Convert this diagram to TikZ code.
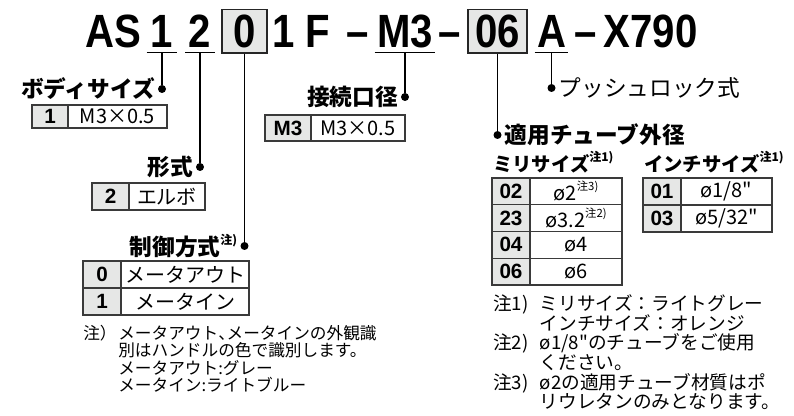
\documentclass[tikz,border=0pt]{standalone}
\usepackage{fontspec}
\setmainfont{Liberation Sans}
\newfontfamily\jpfont{Noto Sans CJK JP}
\newfontfamily\ttlfont[FakeStretch=0.86]{Liberation Sans}
\usetikzlibrary{positioning}
\definecolor{cellgray}{HTML}{E6E7E6}
\definecolor{rulegray}{HTML}{3A3A3A}
\newcommand{\chu}[2][9]{\raisebox{0.5em}{\fontsize{#1}{#1}\selectfont 注#2}}
\newcommand{\hcomma}{\makebox[0.5em][l]{、}}

\tikzset{
  ttl/.style={font={\ttlfont\bfseries\fontsize{35}{35}\selectfont}, inner sep=0pt, anchor=base},
  ulined/.style={text depth=3pt},
  tbox/.style={draw=black!85, fill=cellgray, line width=1.1pt, text height=29pt, text depth=3.75pt},
  uline/.style={line width=1.1pt},
  lead/.style={line width=1.1pt},
  dot/.style={circle, fill, inner sep=0pt, minimum size=6pt},
  lbl/.style={font={\jpfont\bfseries\fontsize{17}{17}\selectfont}, inner sep=0pt},
  lblthin/.style={font={\jpfont\fontsize{17}{17}\selectfont}, inner sep=0pt},
  subhd/.style={font={\jpfont\bfseries\fontsize{14.5}{14.5}\selectfont}, inner sep=0pt},
  cell/.style={draw=rulegray, line width=0.9pt, inner sep=0pt, outer sep=0pt},
  codecell/.style={cell, fill=cellgray, font={\bfseries\fontsize{15.5}{15.5}\selectfont}},
  valcell/.style={cell, fill=white, font={\jpfont\fontsize{15}{15}\selectfont}},
  note/.style={inner sep=0pt, align=left}
}

\begin{document}
\begin{tikzpicture}[x=0.75pt, y=-0.75pt]
	\useasboundingbox (0,0) rectangle (794,416);
	% model code
	\node[ttl] (tAS) at (113,48) {AS};
	\node[ttl, ulined, minimum width=22.5pt] (t1) at (162,48) {1};
	\node[ttl, ulined, minimum width=21.75pt] (t2) at (200,48) {2};
	\node[ttl, tbox, minimum width=33.75pt] (t0) at (244.5,48) {0};
	\node[ttl] (t1b) at (284,48) {1};
	\node[ttl] (tF) at (318,48) {F};
	\node[ttl] (tda) at (358,48) {–};
	\node[ttl, ulined, minimum width=45pt] (tM3) at (405,48) {M3};
	\node[ttl] (tdb) at (450,48) {–};
	\node[ttl, tbox, minimum width=44.25pt] (t06) at (497.5,48) {06};
	\node[ttl, ulined, minimum width=24.75pt] (tA) at (551.5,48) {A};
	\node[ttl] (tdc) at (586,48) {–};
	\node[ttl] (tX) at (650.5,48) {X790};
	\foreach \n in {t1,t2,tM3,tA}
		\draw[uline] (\n.south west) -- (\n.south east);

	% leader dots
	\node[dot] (d1) at (162,89) {};
	\node[dot] (d2) at (200,167) {};
	\node[dot] (d3) at (244.5,246) {};
	\node[dot] (d4) at (405,97) {};
	\node[dot] (d5) at (497.5,135) {};
	\node[dot] (d6) at (551.5,88) {};
	\draw[lead] (t1.south) -- (d1);
	\draw[lead] (t2.south) -- (d2);
	\draw[lead] (t0.south) -- (d3);
	\draw[lead] (tM3.south) -- (d4);
	\draw[lead] (t06.south) -- (d5);
	\draw[lead] (tA.south) -- (d6);

	\node[lbl, left=2pt of d1] (lBody) {ボディサイズ};
	\node[lbl, left=2pt of d2] (lType) {形式};
	\node[lbl, left=2pt of d3] (lCtrl) {制御方式\chu{)}};
	\node[lbl, left=2pt of d4] (lPort) {接続口径};
	\node[lbl, right=2pt of d5] (lTube) {適用チューブ外径};
	\node[lblthin, right=2pt of d6] (lLock) {プッシュロック式};

	% body size
	\node[codecell, minimum width=27pt, minimum height=17.25pt, anchor=north west] (b1k) at (32,105) {1};
	\node[valcell, minimum width=74.25pt, minimum height=17.25pt, right=0pt of b1k] (b1v) {M3×0.5};
	% type
	\node[codecell, minimum width=27.75pt, minimum height=20.25pt, anchor=north west] (s2k) at (92,183) {2};
	\node[valcell, minimum width=57pt, minimum height=20.25pt, right=0pt of s2k] (s2v) {エルボ};
	% control
	\node[codecell, minimum width=28.5pt, minimum height=20.25pt, anchor=north west] (c0k) at (83,261) {0};
	\node[valcell, minimum width=96pt, minimum height=20.25pt, right=0pt of c0k] (c0v) {メータアウト};
	\node[codecell, minimum width=28.5pt, minimum height=20.25pt, below=0pt of c0k] (c1k) {1};
	\node[valcell, minimum width=96pt, minimum height=20.25pt, right=0pt of c1k] (c1v) {メータイン};
	% port
	\node[codecell, minimum width=34.5pt, minimum height=19.5pt, anchor=north west] (p3k) at (265,115) {M3};
	\node[valcell, minimum width=70.5pt, minimum height=19.5pt, right=0pt of p3k] (p3v) {M3×0.5};

	% tube sizes
	\node[subhd, anchor=west] (hMm) at (493,162) {ミリサイズ\chu{1)}};
	\node[subhd, anchor=west] (hIn) at (644,162) {インチサイズ\chu{1)}};
	\node[codecell, minimum width=28.5pt, minimum height=20.06pt, anchor=north west] (m02k) at (492,178) {02};
	\node[valcell, minimum width=69pt, minimum height=20.06pt, right=0pt of m02k] (m02v) {ø2\chu[8.5]{3)}};
	\node[codecell, minimum width=28.5pt, minimum height=20.06pt, below=0pt of m02k] (m23k) {23};
	\node[valcell, minimum width=69pt, minimum height=20.06pt, right=0pt of m23k] (m23v) {ø3.2\chu[8.5]{2)}};
	\node[codecell, minimum width=28.5pt, minimum height=20.06pt, below=0pt of m23k] (m04k) {04};
	\node[valcell, minimum width=69pt, minimum height=20.06pt, right=0pt of m04k] (m04v) {ø4};
	\node[codecell, minimum width=28.5pt, minimum height=20.06pt, below=0pt of m04k] (m06k) {06};
	\node[valcell, minimum width=69pt, minimum height=20.06pt, right=0pt of m06k] (m06v) {ø6};
	\node[codecell, minimum width=28.5pt, minimum height=20.25pt, anchor=north west] (i01k) at (643,178) {01};
	\node[valcell, minimum width=68.25pt, minimum height=20.25pt, right=0pt of i01k] (i01v) {ø1/8"};
	\node[codecell, minimum width=28.5pt, minimum height=20.25pt, below=0pt of i01k] (i03k) {03};
	\node[valcell, minimum width=68.25pt, minimum height=20.25pt, right=0pt of i03k] (i03v) {ø5/32"};

	% notes (base = last line)
	\node[note, anchor=base west, font={\jpfont\fontsize{12.5}{13.2}\selectfont}] (nCtrl) at (83,392)
		{\makebox[26.25pt][l]{注）}メータアウト\hcomma メータインの外観識\\
		 \hspace*{26.25pt}別はハンドルの色で識別します。\\
		 \hspace*{26.25pt}メータアウト:グレー\\
		 \hspace*{26.25pt}メータイン:ライトブルー};
	\node[note, anchor=base west, font={\jpfont\fontsize{14}{14.8}\selectfont}] (nTube) at (493,409)
		{\makebox[35pt][l]{注1)}ミリサイズ：ライトグレー\\
		 \hspace*{35pt}インチサイズ：オレンジ\\
		 \makebox[35pt][l]{注2)}ø1/8"のチューブをご使用\\
		 \hspace*{35pt}ください。\\
		 \makebox[35pt][l]{注3)}ø2の適用チューブ材質はポ\\
		 \hspace*{35pt}リウレタンのみとなります。};
\end{tikzpicture}
\end{document}
